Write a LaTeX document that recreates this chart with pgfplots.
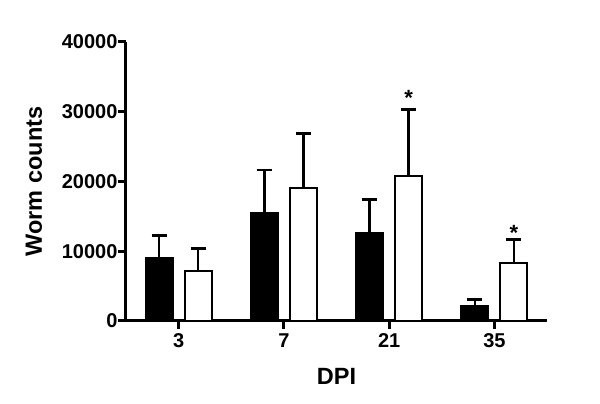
\documentclass[border=0pt]{standalone}
\usepackage{pgfplots}
\pgfplotsset{compat=1.18}
\usepackage{fontspec}
\setmainfont{Liberation Sans}

\begin{document}
\begin{tikzpicture}
\begin{axis}[
  scale only axis,
  width=421pt, height=279pt,
  xmin=-0.5, xmax=3.5,
  ymin=0, ymax=40000,
  axis lines=left,
  axis line style={-, line width=3pt},
  xtick={0,1,2,3},
  xticklabels={3,7,21,35},
  ytick={0,10000,20000,30000,40000},
  scaled y ticks=false,
  /pgf/number format/assume math mode=true,
  /pgf/number format/fixed,
  /pgf/number format/1000 sep={},
  tick align=outside,
  major tick length=8pt,
  tick style={line width=3pt, black},
  ticklabel style={font=\bfseries\fontsize{20}{22}\selectfont},
  xticklabel style={yshift=-1pt},
  yticklabel style={xshift=3pt},
  xlabel={DPI},
  ylabel={Worm counts},
  label style={font=\bfseries\fontsize{23.5}{25}\selectfont},
  xlabel style={at={(axis description cs:0.5,-0.197)}, anchor=center},
  ylabel style={at={(axis description cs:-0.2185,0.5)}, anchor=center},
  ybar,
  bar width=27pt,
  clip=false,
]
\addplot[fill=black, draw=black, line width=2pt, bar shift=-19.5pt,
  error bars/.cd, y dir=plus, y explicit,
  error bar style={line width=2.5pt, black},
  error mark options={line width=2.5pt, black, mark size=7.5pt, rotate=90}]
  coordinates {
  (0,8990) +- (0,3300)
  (1,15440) +- (0,6210)
  (2,12660) +- (0,4790)
  (3,2200) +- (0,900)
};
\addplot[fill=white, draw=black, line width=2pt, bar shift=19.5pt,
  error bars/.cd, y dir=plus, y explicit,
  error bar style={line width=2.5pt, black},
  error mark options={line width=2.5pt, black, mark size=7.5pt, rotate=90}]
  coordinates {
  (0,7170) +- (0,3200)
  (1,19020) +- (0,7880)
  (2,20830) +- (0,9520)
  (3,8320) +- (0,3380)
};
\node[font=\bfseries\fontsize{22}{24}\selectfont, inner sep=0pt] at (axis cs:2.185,32000) {*};
\node[font=\bfseries\fontsize{22}{24}\selectfont, inner sep=0pt] at (axis cs:3.185,12600) {*};
\coordinate (o) at (rel axis cs:0,0);
\end{axis}
\path (o) ++(-126pt,-83pt) rectangle ++(600pt,404pt);
\end{tikzpicture}
\end{document}
